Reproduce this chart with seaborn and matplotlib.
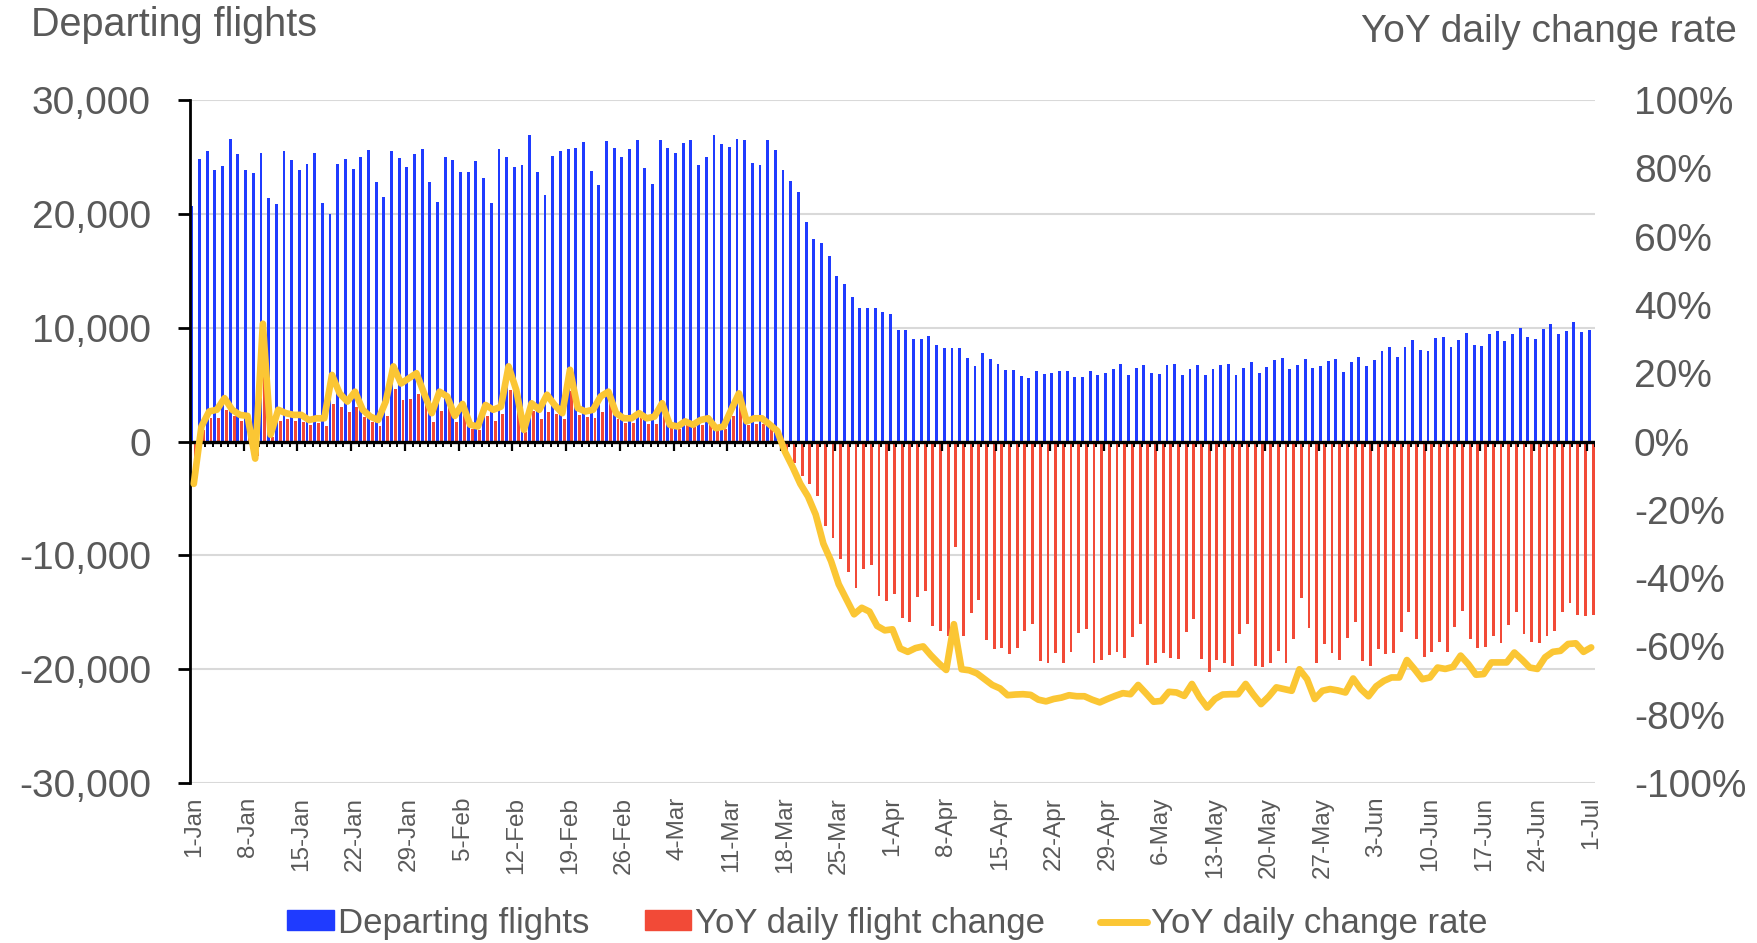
import numpy as np
import pandas as pd
import matplotlib
matplotlib.use('Agg')
import matplotlib.pyplot as plt
import seaborn as sns
from matplotlib.patches import Patch
from matplotlib.lines import Line2D
from matplotlib.ticker import FuncFormatter

# --- Data (1-Jan to 1-Jul) ---
dates = pd.date_range('2020-01-01', '2020-07-01', freq='D')

departing = [
    20700, 24790, 25520, 23820, 24200, 26550, 25230, 23820, 23560, 25320,
    21370, 20840, 25520, 24700, 23820, 24410, 25320, 20930, 19960, 24410,
    24790, 23910, 25000, 25610, 22770, 21450, 25520, 24910, 24090, 25230,
    25700, 22770, 21020, 25000, 24700, 23680,
    23680, 24610, 23180, 20930, 25700, 25000, 24090, 24260, 26930, 23680,
    21630, 25080, 25520, 25700, 25810, 26310, 23800, 22570, 26400, 25810,
    25000, 25700, 26520, 24000, 22650, 26520, 25810, 25320, 26220, 26520,
    24260, 25000, 26930, 26110, 25900, 26600, 26520, 24500, 24260, 26520,
    25610, 23880,
    22920, 21960, 19270, 17750, 17460, 16260, 14510, 13810, 12700, 11770,
    11770, 11770,
    11400, 11200, 9800, 9800, 8980, 8980, 9270, 8450, 8250, 8250,
    8250, 7310, 6640, 7750, 7220, 6810, 6290, 6290, 5790, 5610, 6200,
    5930, 6040, 6220, 6220, 5640, 5640, 6220, 5840, 6040,
    6370, 6830, 5840, 6450, 6740, 6050, 5930, 6740, 6830, 5840,
    6370, 6740, 5840, 6370, 6740, 6830, 5840, 6450, 6950, 6050,
    6540, 7150, 7350, 6370, 6740, 7240, 6450, 6660, 7030, 7240,
    6130, 6950, 7440, 6660, 7150, 7940, 8340, 7440, 8340, 8950,
    8050, 7940,
    9120, 9210, 8300, 8920, 9530, 8510, 8390, 9420, 9710, 8800,
    9420, 10000, 9210, 9010, 9910, 10320, 9420, 9710, 10530, 9620, 9820,
]

yoy_change = [
    -2930, 1045, 2064, 2027, 2727, 2259, 1826, 1662, -1240, 6300,
    419, 1773, 1956, 1787, 1724, 1447, 1612, 1333, 3257, 3017,
    2596, 3046, 2127, 1742, 1350, 2246, 4601, 3619, 3761, 4205,
    3176, 1745, 2678, 2915, 1680, 2385, 1106, 1037, 2241, 1781,
    2379, 4508, 3160, 798, 2712, 2015, 2606, 2424, 1956, 4460,
    2304, 2128, 2025, 2632, 3363, 1978, 1592, 1636, 2032, 1528,
    1541, 2671, 1206, 1067, 1461, 1239, 1438, 1592, 1011, 1100,
    2204, 3287, 1478, 1560, 1545, 1359, 842, -892,
    -1900, -3070, -3710, -4820, -7450, -8470, -10280, -11470, -12900, -11180,
    -10890, -13610,
    -14040, -13360, -15500, -15880, -13650, -13160, -16170, -16610, -17050, -9300,
    -17110, -15060, -13950, -17400, -18220, -18130, -18630, -18130, -16610, -15990,
    -19300,
    -19500, -18600, -19420, -18480, -16790, -16440, -19500, -19210, -18800, -18480,
    -19010, -17170, -16060, -19620, -19420, -18540, -19010, -19090, -16760, -15560,
    -19090, -20230, -19210, -19420, -19710, -16880, -16060, -19710, -19800, -19420,
    -18390, -19500, -17370, -13780, -16350, -19420, -17780, -18600, -19210, -17260,
    -15850, -19300, -19710, -18190, -18690, -18600, -16760, -14950, -17370,
    -18950, -18510, -17630, -18450, -16320, -14910, -17340, -18160, -18070, -17050,
    -17720, -16110, -15000, -16900, -17630, -17720, -17110, -16610, -15000, -14180,
    -15200, -15290, -15200,
]

# YoY daily change rate, in percent
yoy_rate = [
    -12.4, 4.4, 8.8, 9.3, 12.7, 9.3, 7.8, 7.5, -5.0, 34.5,
    2.0, 9.3, 8.3, 7.8, 7.8, 6.3, 6.8, 6.8, 19.5, 14.1,
    11.7, 14.6, 9.3, 7.3, 6.3, 11.7, 22.0, 17.0, 18.5, 20.0,
    14.1, 8.3, 14.6, 13.2, 7.5, 11.0,
    4.9, 4.4, 10.7, 9.3, 10.2, 22.0, 15.1, 3.4, 11.2, 9.3,
    13.7, 10.7, 8.3, 21.0, 9.8, 8.8, 9.3, 13.2, 14.6, 8.3,
    6.8, 6.8, 8.3, 6.8, 7.3, 11.2, 4.9, 4.4, 5.9, 4.9,
    6.3, 6.8, 3.9, 4.4, 9.3, 14.1, 5.9, 6.8,
    6.8, 5.0, 3.1, -3.0, -7.5, -12.4, -16.1, -21.4, -29.9, -35.0,
    -41.8, -46.2, -50.6, -48.7, -49.8, -54.0,
    -55.3, -55.0, -60.6, -61.6, -60.5, -60.0, -62.6, -64.9, -66.9, -53.5,
    -66.7, -67.0, -67.9, -69.6, -71.3, -72.3, -74.3, -74.1, -74.0, -74.2,
    -75.6, -76.1, -75.4, -75.0, -74.3, -74.6, -74.6, -75.6, -76.4, -75.4,
    -74.5, -73.7, -74.0, -71.3, -73.7, -76.2, -76.0, -73.3, -73.5, -74.5,
    -71.0, -74.9, -77.9, -75.4, -74.1, -74.0, -74.0, -71.0, -74.1, -76.9,
    -74.7, -72.0, -72.5, -73.0, -66.7, -69.6, -75.4, -73.0, -72.5, -72.9,
    -73.5, -69.4, -72.5, -74.6, -71.7, -70.1, -69.1, -69.1, -64.0, -66.7,
    -69.6, -69.1, -66.2, -66.6, -66.0, -62.7, -65.2, -68.3, -68.1, -64.7,
    -64.7, -64.7, -61.8, -63.9, -66.2, -66.6, -63.2, -61.6, -61.3, -59.3,
    -59.1, -61.6, -60.3,
]

tick_labels = ['1-Jan', '8-Jan', '15-Jan', '22-Jan', '29-Jan', '5-Feb', '12-Feb',
               '19-Feb', '26-Feb', '4-Mar', '11-Mar', '18-Mar', '25-Mar', '1-Apr',
               '8-Apr', '15-Apr', '22-Apr', '29-Apr', '6-May', '13-May', '20-May',
               '27-May', '3-Jun', '10-Jun', '17-Jun', '24-Jun', '1-Jul']

BLUE = '#1f3bff'
RED = '#f24a37'
YELLOW = '#fbc634'
GREY = '#595959'

df = pd.DataFrame({
    'day': np.arange(len(dates)),
    'Departing flights': departing,
    'YoY daily flight change': yoy_change,
    'rate': np.array(yoy_rate) / 100,
})
long_df = df.melt(id_vars='day', value_vars=['Departing flights', 'YoY daily flight change'],
                  var_name='series', value_name='flights')

# --- Plot ---
sns.set_style('white')
plt.rcParams['font.family'] = ['Liberation Sans', 'DejaVu Sans']

fig = plt.figure(figsize=(17.57, 9.43), dpi=100)
ax = fig.add_axes([0.1081, 0.1697, 0.7997, 0.7242])

sns.barplot(data=long_df, x='day', y='flights', hue='series',
            palette={'Departing flights': BLUE, 'YoY daily flight change': RED},
            width=1.0, gap=0.25, linewidth=0, saturation=1, errorbar=None,
            legend=False, ax=ax)

ax.set_xlim(-0.5, len(dates) - 0.5)
ax.set_ylim(-30000, 30000)
ax.set_yticks(range(-30000, 30001, 10000))
ax.yaxis.set_major_formatter(FuncFormatter(lambda v, p: f'{v:,.0f}'))
ax.yaxis.grid(True, color='#d9d9d9', lw=1.5)
ax.set_axisbelow(True)
ax.set_xlabel('')
ax.set_ylabel('')

# zero axis with category tick marks
ax.axhline(0, color='black', lw=2.4, zorder=3)
ax.vlines(np.arange(-0.5, len(dates), 1), -500, 0, color='black', lw=1.4, zorder=3)
ax.vlines(np.arange(-0.5, len(dates), 7), -800, 0, color='black', lw=1.6, zorder=3)

ax.set_xticks(range(0, len(dates), 7))
ax.set_xticklabels(tick_labels, rotation=90, fontsize=17.5, color=GREY)
ax.tick_params(axis='x', length=0, pad=10)
ax.tick_params(axis='y', labelsize=28, labelcolor=GREY, length=9, width=2,
               color='black', direction='out', pad=19, left=True)

for s in ['top', 'right', 'bottom']:
    ax.spines[s].set_visible(False)
ax.spines['left'].set_color('black')
ax.spines['left'].set_linewidth(2)

# secondary axis: YoY rate
ax2 = ax.twinx()
sns.lineplot(data=df, x='day', y='rate', color=YELLOW, linewidth=4.8, ax=ax2)
for line in ax2.get_lines():
    line.set_linewidth(4.8)
    line.set_solid_joinstyle('round')
    line.set_solid_capstyle('round')
ax2.set_ylim(-1, 1)
ax2.set_yticks(np.linspace(-1, 1, 11))
ax2.yaxis.set_major_formatter(FuncFormatter(lambda v, p: f'{round(v * 100):d}%'))
ax2.tick_params(axis='y', labelsize=28, labelcolor=GREY, length=0, pad=28)
ax2.set_ylabel('')
ax2.set_xlabel('')
for s in ax2.spines.values():
    s.set_visible(False)
ax.set_xlim(-0.5, len(dates) - 0.5)

# titles
fig.text(31 / 1757, 1 - 6 / 943, 'Departing flights', ha='left', va='top',
         fontsize=28.5, color=GREY)
fig.text(1737 / 1757, 1 - 14 / 943, 'YoY daily change rate', ha='right', va='top',
         fontsize=28, color=GREY)

# legend
handles = [Patch(color=BLUE), Patch(color=RED), Line2D([], [], color=YELLOW, lw=5)]
labels = ['Departing flights', 'YoY daily flight change', 'YoY daily change rate']
fig.legend(handles, labels, loc='center', bbox_to_anchor=(0.505, 0.021), ncol=3,
           frameon=False, fontsize=25, labelcolor=GREY, handlelength=1.35,
           handleheight=0.5, handletextpad=0.1, columnspacing=1.6)

fig.savefig('out.png', dpi=100)
